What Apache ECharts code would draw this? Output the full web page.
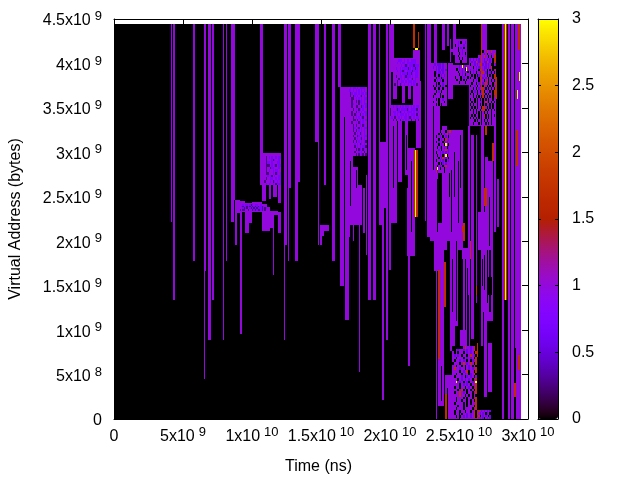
<!DOCTYPE html>
<html><head><meta charset="utf-8">
<script src="https://cdn.jsdelivr.net/npm/echarts@6/dist/echarts.min.js"></script>
<style>html,body{margin:0;background:#fff}#c{width:640px;height:480px}</style></head>
<body><div id="c"></div>
<script>
// spans: [time start, time end, address low, address high]  (time 1e9 ns, address 1e9 bytes)
const TOP = 4.44, END = 29.5;
const level1Spans = [
 [4.1,4.22,2.22,TOP],[4.3,4.45,1.34,TOP],[5.7,5.9,1.78,TOP],[6.5,6.7,1.66,TOP],[6.5,6.6,.45,TOP],
 [6.8,7.0,.89,TOP],[7.1,7.25,1.34,TOP],[7.9,8.0,.89,TOP],[8.1,8.2,1.78,TOP],[8.5,8.7,2.22,TOP],[8.7,8.8,2.46,TOP],
 [8.8,8.9,1.96,2.46],[8.9,9.1,2.32,2.46],[9.1,9.3,.96,2.45],[9.3,9.5,2.33,2.45],[9.5,9.8,2.09,2.43],[9.8,10,2.2,2.43],
 [10,10.7,2.33,2.44],[10.7,11.3,2.12,2.38],[11.3,11.5,2.15,2.34],[11.5,11.6,1.62,2.34],[11.6,11.9,2.3,2.34],[11.9,12.1,2.09,2.33],
 [10.6,10.8,2.63,TOP],[10.7,10.85,2.63,2.99],[10.7,11,2.45,2.63],[11.2,11.4,2.47,2.7],[11.5,11.8,2.5,2.75],[11.9,12.1,2.43,2.75],
 [12.3,12.4,.89,TOP],[12.3,12.5,1.96,TOP],[12.6,12.7,1.78,TOP],[12.6,12.8,2.6,TOP],[13.1,13.3,1.78,TOP],[13.3,13.5,2.67,TOP],
 [14.6,14.85,3.12,TOP],[14.75,14.85,1.96,TOP],[14.9,15.6,2.12,2.18],[14.9,15.05,1.96,2.18],[15.05,15.25,2.06,2.18],
 [15.2,15.35,2.63,TOP],[15.8,16,1.78,TOP],[16.2,16.45,3.74,TOP],
 [16.4,16.7,1.5,3.74],[16.75,17,1.11,3.4],[16.7,17.4,3.4,3.74],[17,17.35,2.9,3.55],[17.35,17.7,3.05,3.55],
 [17,17.35,2.18,2.93],[17.35,17.7,2.18,2.83],[17.7,18,2.18,2.63],[17,17.1,2.05,2.2],[17.3,17.4,2,2.2],[17.75,17.85,.53,2.2],[18.05,18.2,2.09,2.6],[18.25,18.35,1.85,2.75],
 [18.4,18.65,1.34,TOP],[18.8,18.95,1.34,TOP],[19.2,19.3,2.18,TOP],[19.3,19.76,2.37,3.12],[19.3,19.45,2.18,3.12],[19.45,19.55,.21,3.1],[19.7,19.85,.89,TOP],
 [19.95,20.1,1.68,TOP],[20.1,20.3,3.9,TOP],[20,20.5,2.2,3.35],[20.55,20.85,2.67,3.35],[21.1,21.33,2.75,3.35],[21.33,21.8,2,3.05],[21.25,21.8,1.83,2.6],[21.3,21.45,.6,2.2],
 [20.25,22.2,3.78,4.06],[20.25,20.5,3.6,3.8],[20.9,21.1,3.55,3.8],[21.3,21.5,3.6,3.8],[21.7,22.2,3.35,4.15],[19.9,22.2,3.35,3.53],
 [21.9,22.25,3.05,3.8],[22.5,22.6,2.23,TOP],[22.7,23,3.53,TOP],[22.7,23.1,2.05,3.53],[22.9,23.2,2,2.8],[23.3,23.4,0,2.8],[23.2,23.5,1.66,2.8],
 [23.5,23.9,.68,2.2],[23.5,23.9,.15,.68],[23.95,24.5,0,.5],[23.2,23.4,4,TOP],[23.8,24,4.15,TOP],[24.1,24.3,4.2,TOP],[24.6,24.75,4.28,TOP],
 [23,24.1,3.53,4],[23.6,24.1,2.78,3.25],[23.2,23.6,2.78,3.53],[23.75,24.1,1.9,3.3],[24.1,25.3,2,3.25],[24.35,24.95,.76,2.2],[24.95,25.3,1.9,3.25],
 [24.35,25.55,4.02,4.28],[24.6,25.7,3.76,3.98],[24.2,24.6,3.6,4],[25.1,25.65,.8,1.92],[25.65,25.8,.6,3.3],[25.9,26.1,.9,3.2],[26.2,26.3,1.3,3.2],[26.4,27.1,1.85,2.33],
 [25.7,27.7,3.3,4.15],[26.6,26.8,1.45,TOP],[26.8,27,3.6,TOP],[26.9,27.1,1.1,2.95],[27.1,27.4,.3,.85],[26.6,27,.25,1.45],[27.1,27.45,1.1,2.9],[27.5,27.7,2.1,3.3],[27.75,27.9,2.16,2.7],
 [28.15,28.25,0,TOP],[28.55,28.7,0,TOP],[28.75,28.95,0,TOP],[29.05,29.5,.8,TOP],[29.1,29.5,0,.8],
 [24.5,26.3,0,.8]
];
const level0Spans = [
 [24.95,25.1,.76,1.9],[24.7,24.95,.76,1.05],[25.2,25.3,1,1.8],[25.6,25.7,.8,1.4],[26.1,26.2,1.1,3.1],[26.3,26.6,.8,1.9],[26.3,26.4,1.9,3.2],
 [27,27.1,1.3,1.9],[27.2,27.3,1.2,1.9],[27.1,27.4,1.4,1.6],[25.35,25.6,2.2,3.3],[24.65,24.7,2.5,3],[24.9,24.95,2.2,2.9],[25.05,25.1,2.6,3.2],[24.4,24.45,2.1,2.8],[17.1,17.2,2.4,2.9],[17.5,17.55,2.6,2.8],
 [22.3,22.5,2.18,3.05],[21,21.05,2.4,3.3],[20.2,20.3,2.6,3.3],[24,24.1,.68,1.26],[21.9,22.4,2,3.05],
 [25.1,25.2,1,1.9],[25.4,25.45,1,1.8],[25.55,25.6,.85,1.7],[24.5,24.55,1.2,1.8],[24.75,24.8,1.1,2],[24.1,24.15,0,.35],[23.7,23.75,.2,.6],
 [26.75,26.8,.6,1.2],[26.65,26.7,1.5,1.8],[27.2,27.25,1.95,2.5],[21.5,21.55,2.1,2.9],[21.15,21.2,2.8,3.2],[23.4,23.45,2.1,2.7],[24.25,24.3,2.5,3.1]
];
const level2Spans = [
 [21.7,21.8,4.17,TOP],[22,22.1,4.17,4.35],[23.5,23.6,.68,1.68],[23.9,24.05,1.26,1.77],[24,24.1,0,.28],[26.6,26.7,3.7,TOP],
 [25.2,25.3,2.1,2.17],[25.8,25.9,1.8,2],[26.2,26.3,1.4,1.5],[26.3,26.4,.7,.85],[29.3,29.45,4.15,TOP],[29.1,29.3,2.85,3.25],[29.3,29.4,.55,.72],[29,29.1,.25,.4],
 [28.25,28.33,1.34,TOP],[28.42,28.5,1.34,TOP],[26.8,27,2.4,2.6],[27.4,27.5,2.9,3.1],[26.9,27,3.2,3.3],[27.65,27.75,3.6,3.85],[25.3,25.4,2.0,2.2],[21.75,22,2.27,3.03]
];
const level3Spans = [
 [21.82,21.92,2.27,3.03],[21.8,22,4.15,4.17],[28.33,28.42,1.34,TOP],[29.2,29.3,3.6,3.7],[29.35,29.45,3.8,3.9],[25.5,25.55,3.92,3.96]
];
// hand-read textures: top-left corner [time, address, time step, address step], then rows
const blob1Corner = [9.1,2.42,.1,.02];
const blob1Rows = ["##d#dd#d.d#dd##d####","#d.dd.d.d.d.d.dd.d##","##d.d.#d.d.d.ddd.d.d",".#..##.##.d.d..d.d.#"];
const blob2Corner = [10.9,2.99,.1,.03];
const blob2Rows = ["############","#.#d#d##d#dd","#.###d.d##d#","#.dd#d###dd#","#...#d#d.#dd","#.##.dd###d#","#.#d##d#dd##","#..###d#.d#d","##d#d.#d##dd","#.##dd##d#dd",".###d#.d#d#d","#d#d##d#.ddd"];
const blob3Corner = [17.0,3.74,.1,.03];
const blob3Rows = ["#d#dd#d#dddd#","dd#d#d#d#d#d#","#.d#dd#d#dd#d","#.#.d#d#d.#d#","##..#d#d#d#dd","##.##.#.dd#d#","##.d#d#.#d#dd","##.##..##.d#d","###.#d#.d#d##","##.##.#d#d#dd","##.#.d##.#d#d","###.#d#d#d.##","###..#.#d#d#d","##.##d#.d#d##","###.#.##d#.d#","###.d#d.#d#dd","###.#.#d#d#d#","####.#d#.d#d#","###.##.d#d#dd","####.#d#d.#d#","###.#.#d#d#d.","####d#d#.d#d#","####.#d#d#dd.","#####.#.d#.d#","####.##d#d#.#","#####.#.#d.#."];
const blob4UpperCorner = [20.3,4.05,.1,.03];
const blob4UpperRows = ["###ddd#d#dd#dddd##","##d#d#dd#ddddddd##","#####d#d.d#ddd.ddd","#d##d#dddd.d#dd.d#","##d#dd.d#dddd.ddd#","####d#ddd.dd.d#dd#","#.##dd#d.ddd#d#dd#","###.#d#d#dd#d.#d##","##.##dd#d#ddd#dd##",".#.#.d#d##d#d#d#.#"];
const blob4LowerCorner = [19.9,3.53,.1,.03];
const blob4LowerRows = ["###d#dd#d#d#ddd#d#d#dd#","#.###d.d#dddd.d#dddd.##","#.#dd#dd.d#d#dddd#d#dd#","#.##d#d#ddd#d#d#ddd#.##","##d#.##d#d#dd#d.d#d#dd#","###.#.##.#d#d#d#.##.#.#"];
const blob5Corner = [23,4,.1,.03];
const blob5Rows = ["##d#ddd#d##","#d#d#dd#d##","###d#d#dd#d","##.d#dd#d##","##.##.#d#d#","###.#d#.d##","##.#d#d#.##","###.#.##d##","#.#.#d.#d#.","##.##.##.##","###.#d#.###","##.###.####","#.####.#.##","###.#.##d##","#.###.###.#","###.#.#.###"];
const blob5bCorner = [23.2,3.25,.1,.03];
const blob5bRows = ["####.###.##r","###.#.#d#rd#","#.##d#.#d#.#","###.#d#.r#d#","#.#d##.d#d##","###.#d#.y#.#","##.#d.#d#.d#","###d#.##r#d#","#.##d#d#d#d#","##.#d#.#y.##","###.#dr#d#.#","#.##d#d#.#d#","###.#.d#d###","##.#d#.#r###","##y#.##.####","#rd####.####"];
const blob6Corner = [24.4,4.28,.1,.03];
const blob6Rows = ["..##########","..###d#.##d#","..#.#d###d##","..###.#d#.##","#####.##d###","..####.#d#.#","...##.####d#","...###.#.###","...####.####"];
const blob6bCorner = [24.6,3.98,.1,.03];
const blob6bRows = ["####d#y#d####","##.#d#d#.d#d#","###.##d#d#.##","####.#d#.###.","#.###.#d##.##","##.##.#.#.###","####.###.###."];
const blob7Corner = [25.7,4.15,.1,.03];
const blob7Rows = ["...........##r##r###",".........r#d#.##d#r#",".......####r##.#.#rr","#d#d#d#d#r#d#d#d#.rr","##d#dr#d#d#ddr#d#.rr","#.##d#d#r#d#d#d#..#d","###.#d#d#d#dd#d#r...","#d#d#d#.rd#d#.#.#.#r","#.#d#.##d#r#d.#d.#.#","##.#.#.d#d#d#.#.#.rr","#.##.#d.r#d#d#.##.rr","###.#d#.#d#.#r.#.#.#","##.##.#d#.d#r#.##.#r","#.##d#.#d#.r#.#.#.##","###.#.#d#.r#.#.#.#.r","##.#d#.#.#r.#d#.#.rr","#.#.##.#d#r#.#.##.rr","###.#.#.#.r.#.#.#.#r","#.##.#.#.#.#.#.##.##","##.#.#.#d#.#r#.#.#.#","#.#.##.#.#.#.##.#.##","##.#.#.##.rr#.#.#.##","#.#.#.##.#rr.#.#.#.#","###.#.#.#.#.#.##.###","##.#.##.#.#r.#.#.#.#","#.#.#.#.#.##.#.#.###","####.#.##.#.#.##.###","###.###.#.##.#.#.###"];
const blob8Corner = [24.5,.82,.13,.03];
const blob8Rows = ["......#r##d#r.....","..#d##d#d#d#r.....","#.#.##.#d#d#.r....","#d#d#.##.#r#d.....","##.###.#d#d#.r....","#.##d#d#.#.d#r....",".###.#r#d#r#.r....","##.##.#.#d#.#.....","#r##d##.#d#d#r....","####.#d#r.##.r....","##.##.#d#.d#r.....","#.###d#.d#d#.#....","###.#d#d#d#.#r....","##y#d#.#d.#d#y....","####.#d#d#.##r....","#.##.##.#d#.#r....","###.#r.#.#.#.r....","#.##r#d#.##.#r....","####r##.#.#.#.....","##.###.#.##.#r....","##.##.##.#.#.r....","#.####.#.#.##r....","###.##.#.###.r....","##.###.####.#r....","#.##.##.##.#r.....","#.###.##d#d#r.....","##.#.#d#d#d#r....."];
const blob9Corner = [26.3,.1,.1,.025];
const blob9Rows = ["#r#d#d#d#d","r#d#d#.d#.","#r.#d#d#.d","r#d#d.#d#d"];
const textureLevels = {".":0,d:.55,"#":1,r:1.7,o:2.3,y:3};
const softTextureLevels = {".":.25,d:.7,"#":1,r:1.7,o:2.3,y:3};

const xTickLabels = [["0",""],["5x10","9"],["1x10","10"],["1.5x10","10"],["2x10","10"],["2.5x10","10"],["3x10","10"]];
const yTickLabels = [["0",""],["5x10","8"],["1x10","9"],["1.5x10","9"],["2x10","9"],["2.5x10","9"],["3x10","9"],["3.5x10","9"],["4x10","9"],["4.5x10","9"]];
const barTickLabels = ["0","0.5","1","1.5","2","2.5","3"];

const cells = [];
const addSpans = (list, v) => list.forEach(s => cells.push([s[0]*1e9, s[1]*1e9, s[2]*1e9, s[3]*1e9, v]));
const addRows = (corner, rows, levels) => rows.forEach((row, j) => [...row].forEach((ch, i) => {
  const t = corner[0]+i*corner[2], a = corner[1]-j*corner[3];
  cells.push([t*1e9, (t+corner[2])*1e9, (a-corner[3])*1e9, a*1e9, (levels||textureLevels)[ch]]);
}));
addSpans([[0,END,0,TOP]], 0);
addSpans(level1Spans, 1);
addSpans(level0Spans, 0);
addRows(blob1Corner, blob1Rows, softTextureLevels); addRows(blob2Corner, blob2Rows, softTextureLevels); addRows(blob3Corner, blob3Rows, softTextureLevels);
addRows(blob4UpperCorner, blob4UpperRows, softTextureLevels); addRows(blob4LowerCorner, blob4LowerRows, softTextureLevels);
addRows(blob5Corner, blob5Rows); addRows(blob5bCorner, blob5bRows);
addRows(blob6Corner, blob6Rows); addRows(blob6bCorner, blob6bRows);
addRows(blob7Corner, blob7Rows); addRows(blob8Corner, blob8Rows); addRows(blob9Corner, blob9Rows);
addSpans(level2Spans, 1.7);
addSpans(level3Spans, 3);

// gnuplot 7,5,15 palette
const palette = [];
for (let i=0;i<=90;i++){const x=i/90;
  const r=Math.sqrt(x), g=x*x*x, b=Math.max(0,Math.sin(2*Math.PI*x));
  palette.push(`rgb(${Math.round(r*255)},${Math.round(g*255)},${Math.round(b*255)})`);}

const FONT = "Liberation Sans";
const rich = {b:{fontFamily:FONT,fontSize:16,color:"#000",verticalAlign:"bottom",lineHeight:20},
              s:{fontFamily:FONT,fontSize:13,color:"#000",verticalAlign:"bottom",lineHeight:20,padding:[0,0,6,4]}};
const tickFmt = labels => (v,i)=>{const k=labels[i]; return k[1]?`{b|${k[0]}}{s|${k[1]}}`:`{b|${k[0]}}`;};
const line = {show:true,onZero:false,lineStyle:{color:"#000",width:1}};
const ticks = n => ({show:true,inside:true,length:n,lineStyle:{color:"#000",width:1}});
const XMAX=3e10, YMAX=4.5e9;

const chart = echarts.init(document.getElementById("c"),null,{renderer:"canvas"});
chart.setOption({
  animation:false, backgroundColor:"#fff",
  textStyle:{fontFamily:FONT},
  grid:[{left:114,top:19,width:414,height:400,outerBoundsMode:"none"},{left:538,top:19,width:20,height:400,outerBoundsMode:"none"}],
  xAxis:[
   {type:"value",gridIndex:0,min:0,max:XMAX,interval:5e9,position:"bottom",splitLine:{show:false},axisLine:line,axisTick:ticks(6),z:10,
    axisLabel:{formatter:tickFmt(xTickLabels),rich,margin:6,hideOverlap:false,showMinLabel:true,showMaxLabel:true},
    name:"Time (ns)",nameLocation:"middle",nameGap:40,nameTextStyle:{fontFamily:FONT,fontSize:16,color:"#000",padding:[0,5,0,0]}},
   {type:"value",gridIndex:0,min:0,max:XMAX,interval:5e9,position:"top",splitLine:{show:false},axisLine:line,axisTick:ticks(6),axisLabel:{show:false},z:10},
   {type:"value",gridIndex:1,min:0,max:1,position:"bottom",splitLine:{show:false},axisLine:line,axisTick:{show:false},axisLabel:{show:false},z:10},
   {type:"value",gridIndex:1,min:0,max:1,position:"top",splitLine:{show:false},axisLine:line,axisTick:{show:false},axisLabel:{show:false},z:10}
  ],
  yAxis:[
   {type:"value",gridIndex:0,min:0,max:YMAX,interval:5e8,position:"left",splitLine:{show:false},axisLine:line,axisTick:ticks(6),z:10,
    axisLabel:{formatter:tickFmt(yTickLabels),rich,margin:12,showMinLabel:true,showMaxLabel:true},
    name:"Virtual Address (bytes)",nameLocation:"middle",nameGap:90,nameTextStyle:{fontFamily:FONT,fontSize:16,color:"#000"}},
   {type:"value",gridIndex:0,min:0,max:YMAX,interval:5e8,position:"right",splitLine:{show:false},axisLine:line,axisTick:ticks(6),axisLabel:{show:false},z:10},
   {type:"value",gridIndex:1,min:0,max:3,interval:.5,position:"left",splitLine:{show:false},axisLine:line,axisTick:ticks(3),axisLabel:{show:false},z:10},
   {type:"value",gridIndex:1,min:0,max:3,interval:.5,position:"right",splitLine:{show:false},axisLine:line,axisTick:ticks(3),z:10,
    axisLabel:{formatter:(v,i)=>barTickLabels[i],margin:14,fontFamily:FONT,fontSize:16,color:"#000",showMinLabel:true,showMaxLabel:true}}
  ],
  visualMap:{type:"continuous",min:0,max:3,dimension:4,seriesIndex:0,calculable:false,show:true,realtime:false,
    orient:"vertical",left:538,top:19,itemWidth:20,itemHeight:400,padding:0,text:null,showLabel:false,
    inRange:{color:palette},textStyle:{fontSize:0}},
  series:[{type:"custom",xAxisIndex:0,yAxisIndex:0,data:cells,progressive:0,silent:true,clip:true,
    encode:{x:[0,1],y:[2,3]},
    renderItem:(p,api)=>{
      const a=api.coord([api.value(0),api.value(3)]), b=api.coord([api.value(1),api.value(2)]);
      const x=Math.round(a[0]), y=Math.round(a[1]);
      return {type:"rect",shape:{x,y,width:Math.max(1,Math.round(b[0])-x),height:Math.max(1,Math.round(b[1])-y)},
        style:{fill:api.visual("color")}};
    }}]
});
</script></body></html>
